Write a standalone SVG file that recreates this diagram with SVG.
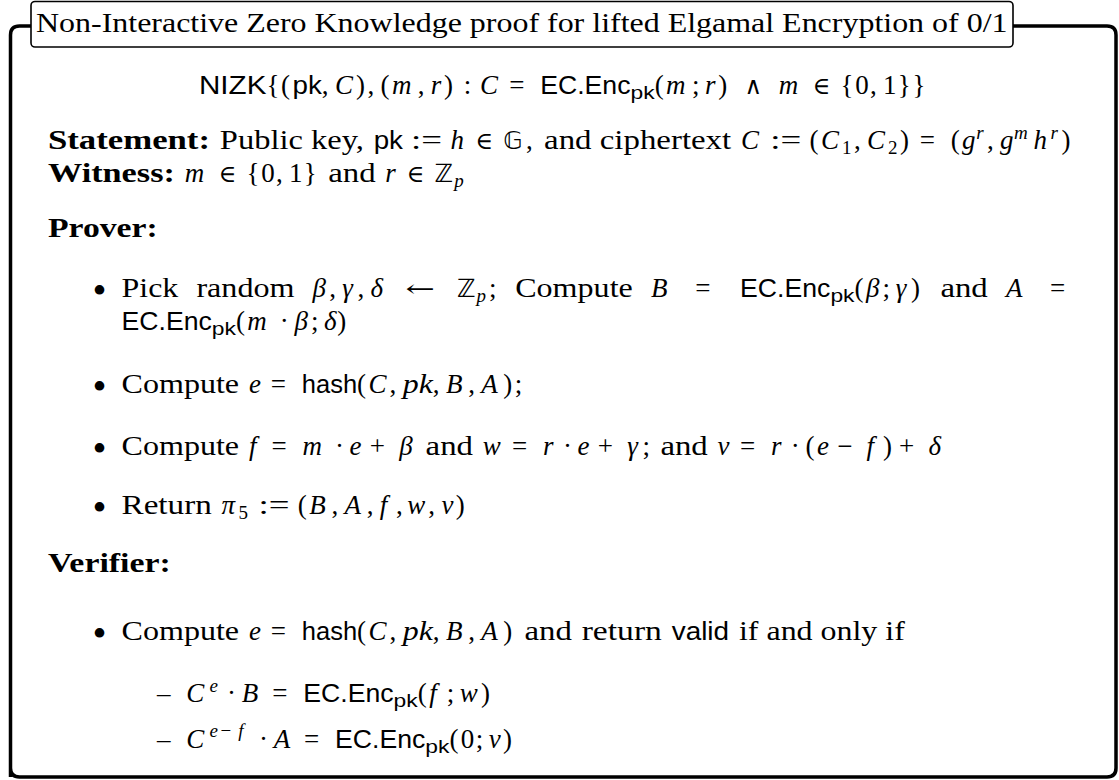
<svg xmlns="http://www.w3.org/2000/svg" width="1119" height="780" viewBox="0 0 1119 780">
<style>
text { font-family: "Liberation Serif", "DejaVu Serif", serif; font-size: 27px; fill: #000; }
.i { font-style: italic; }
.b { font-weight: bold; }
.s { font-family: "Liberation Sans", "DejaVu Sans", sans-serif; font-size: 25px; }
.m { font-family: "DejaVu Serif", "DejaVu Sans", serif; font-size: 24px; }
.bb { font-family: "DejaVu Sans", "DejaVu Serif", sans-serif; font-size: 25px; }
.t { font-size: 19px; }
.s.t { font-size: 18px; }
.bul { text-anchor: middle; font-size: 40px; }
.frame { fill: none; stroke: #000; stroke-width: 3.5; }
.tbox { fill: #fff; stroke: #000; stroke-width: 1.6; }
</style>
<rect width="1119" height="780" fill="#fff"/>
<g id="frame">
  <path class="frame" d="M 10.5 777 L 10.5 35 Q 10.5 26 19.5 26 L 1107 26 Q 1116 26 1116 35 L 1116 768 Q 1116 777 1107 777 L 19.5 777 Q 10.5 777 10.5 768 Z"/>
</g>
<g id="title">
  <rect class="tbox" x="31" y="1.5" width="982" height="45.5" rx="4"/>
  <text x="36" y="32" textLength="971.5" lengthAdjust="spacingAndGlyphs">Non-Interactive Zero Knowledge proof for lifted Elgamal Encryption of 0/1</text>
</g>
<g id="nizk" transform="translate(0,94)">
  <text class="s" x="199" y="0" textLength="67.4" lengthAdjust="spacingAndGlyphs">NIZK</text>
  <text x="266.4" y="0">{</text><text x="281.1" y="0">(</text>
  <text class="s" x="292.6" y="0" textLength="29.3" lengthAdjust="spacingAndGlyphs">pk</text>
  <text x="321.8" y="0">,</text><text class="i" x="334.9" y="0">C</text><text x="355.9" y="0">)</text><text x="367.4" y="0">,</text>
  <text x="380.5" y="0">(</text><text class="i" x="391.9" y="0">m</text><text x="417.7" y="0">,</text><text class="i" x="430.8" y="0">r</text><text x="444" y="0">)</text>
  <text x="463.7" y="0">:</text><text class="i" x="480" y="0">C</text><text x="509.2" y="0">=</text>
  <text class="s" x="540.2" y="0" textLength="90.3" lengthAdjust="spacingAndGlyphs">EC.Enc</text>
  <text class="s t" x="630.6" y="5" textLength="24.1" lengthAdjust="spacingAndGlyphs">pk</text>
  <text x="654.7" y="0">(</text><text class="i" x="666.1" y="0">m</text><text x="691.9" y="0">;</text><text class="i" x="705" y="0">r</text><text x="718.3" y="0">)</text>
  <text class="m" x="744.4" y="0">∧</text><text class="i" x="778.7" y="0">m</text><text class="m" x="812.7" y="0">∈</text>
  <text x="840.5" y="0">{</text><text x="855.2" y="0">0</text><text x="869.9" y="0">,</text><text x="883" y="0">1</text><text x="897.7" y="0">}</text><text x="912.4" y="0">}</text>
</g>
<g id="statement" transform="translate(0,149)">
  <text class="b" x="48" y="0" textLength="162" lengthAdjust="spacingAndGlyphs">Statement:</text>
  <text x="219.8" y="0" textLength="144.2" lengthAdjust="spacingAndGlyphs">Public key,</text>
  <text class="s" x="373.7" y="0" textLength="29.3" lengthAdjust="spacingAndGlyphs">pk</text>
  <text x="411.1" y="0" textLength="31" lengthAdjust="spacingAndGlyphs">:=</text>
  <text class="i" x="450.4" y="0">h</text><text class="m" x="475.5" y="0">∈</text><text class="bb" x="503.3" y="0">𝔾</text><text x="526.1" y="0">,</text>
  <text x="544.1" y="0" textLength="187.1" lengthAdjust="spacingAndGlyphs">and ciphertext</text>
  <text class="i" x="741" y="0">C</text>
  <text x="770.2" y="0" textLength="31" lengthAdjust="spacingAndGlyphs">:=</text>
  <text x="809.4" y="0">(</text><text class="i" x="820.9" y="0">C</text><text class="t" x="841.9" y="5">1</text><text x="853.9" y="0">,</text>
  <text class="i" x="867" y="0">C</text><text class="t" x="888" y="5">2</text><text x="900" y="0">)</text>
  <text x="919.7" y="0">=</text>
  <text x="950.7" y="0">(</text><text class="i" x="962.1" y="0">g</text><text class="i t" x="976.2" y="-10">r</text><text x="987" y="0">,</text>
  <text class="i" x="1000.1" y="0">g</text><text class="i t" x="1014.1" y="-10">m</text><text class="i" x="1033.5" y="0">h</text><text class="i t" x="1050.5" y="-10">r</text><text x="1061.4" y="0">)</text>
</g>
<g id="witness" transform="translate(0,182)">
  <text class="b" x="48" y="0" textLength="126.9" lengthAdjust="spacingAndGlyphs">Witness:</text>
  <text class="i" x="184.7" y="0">m</text><text class="m" x="218.7" y="0">∈</text>
  <text x="246.5" y="0">{</text><text x="261.2" y="0">0</text><text x="275.9" y="0">,</text><text x="289" y="0">1</text><text x="303.7" y="0">}</text>
  <text x="328.2" y="0" textLength="47.4" lengthAdjust="spacingAndGlyphs">and</text>
  <text class="i" x="385.3" y="0">r</text><text class="m" x="406.8" y="0">∈</text><text class="bb" x="434.6" y="0">ℤ</text><text class="i t" x="454.2" y="5">p</text>
</g>
<g id="prover-head">
  <text class="b" x="48" y="237" textLength="109.7" lengthAdjust="spacingAndGlyphs">Prover:</text>
</g>
<g id="item1" transform="translate(0,297)">
  <text class="bul" x="99.5" y="7">•</text>
  <text x="121.5" y="0" textLength="56.8" lengthAdjust="spacingAndGlyphs">Pick</text>
  <text x="196.4" y="0" textLength="98.1" lengthAdjust="spacingAndGlyphs">random</text>
  <text class="i" x="312.5" y="0">β</text><text x="329.2" y="0">,</text><text class="i" x="342.3" y="0">γ</text><text x="357.5" y="0">,</text><text class="i" x="370.6" y="0">δ</text>
  <text class="m" x="405.6" y="0" textLength="29.4" lengthAdjust="spacingAndGlyphs">←</text>
  <text class="bb" x="457" y="0">ℤ</text><text class="i t" x="476.6" y="5">p</text><text x="489" y="0">;</text>
  <text x="515.2" y="0" textLength="117.6" lengthAdjust="spacingAndGlyphs">Compute</text>
  <text class="i" x="650.9" y="0">B</text><text x="695.2" y="0">=</text>
  <text class="s" x="740.1" y="0" textLength="90.3" lengthAdjust="spacingAndGlyphs">EC.Enc</text>
  <text class="s t" x="830.4" y="5" textLength="24.1" lengthAdjust="spacingAndGlyphs">pk</text>
  <text x="854.5" y="0">(</text><text class="i" x="865.9" y="0">β</text><text x="882.6" y="0">;</text><text class="i" x="895.7" y="0">γ</text><text x="910.9" y="0">)</text>
  <text x="940.4" y="0" textLength="47.4" lengthAdjust="spacingAndGlyphs">and</text>
  <text class="i" x="1005.9" y="0">A</text><text x="1049.9" y="0">=</text>
</g>
<g id="item1b" transform="translate(0,330)">
  <text class="s" x="121.5" y="0" textLength="90.3" lengthAdjust="spacingAndGlyphs">EC.Enc</text>
  <text class="s t" x="211.8" y="5" textLength="24.1" lengthAdjust="spacingAndGlyphs">pk</text>
  <text x="235.9" y="0">(</text><text class="i" x="247.3" y="0">m</text><text x="279.7" y="0">·</text><text class="i" x="294.4" y="0">β</text><text x="311" y="0">;</text><text class="i" x="324.1" y="0">δ</text><text x="337.2" y="0">)</text>
</g>
<g id="item2" transform="translate(0,393)">
  <text class="bul" x="99.5" y="7">•</text>
  <text x="121.5" y="0" textLength="117.6" lengthAdjust="spacingAndGlyphs">Compute</text>
  <text class="i" x="248.9" y="0">e</text><text x="270.8" y="0">=</text>
  <text class="s" x="301.8" y="0" textLength="55.3" lengthAdjust="spacingAndGlyphs">hash</text>
  <text x="357.1" y="0">(</text><text class="i" x="368.6" y="0">C</text><text x="389.6" y="0">,</text>
  <text class="i" x="402.7" y="0" textLength="30.1" lengthAdjust="spacingAndGlyphs">pk</text><text x="432.8" y="0">,</text>
  <text class="i" x="445.9" y="0">B</text><text x="468.2" y="0">,</text><text class="i" x="481.3" y="0">A</text><text x="503.3" y="0">)</text><text x="514.8" y="0">;</text>
</g>
<g id="item3" transform="translate(0,455)">
  <text class="bul" x="99.5" y="7">•</text>
  <text x="121.5" y="0" textLength="117.6" lengthAdjust="spacingAndGlyphs">Compute</text>
  <text class="i" x="248.9" y="0">f</text><text x="271.5" y="0">=</text><text class="i" x="302.5" y="0">m</text><text x="334.9" y="0">·</text>
  <text class="i" x="349.6" y="0">e</text><text x="369.8" y="0">+</text><text class="i" x="399.2" y="0">β</text>
  <text x="425.6" y="0" textLength="47.4" lengthAdjust="spacingAndGlyphs">and</text>
  <text class="i" x="482.8" y="0">w</text><text x="512" y="0">=</text><text class="i" x="543.1" y="0">r</text><text x="562.9" y="0">·</text>
  <text class="i" x="577.6" y="0">e</text><text x="597.8" y="0">+</text><text class="i" x="627.2" y="0">γ</text><text x="642.4" y="0">;</text>
  <text x="660.4" y="0" textLength="47.4" lengthAdjust="spacingAndGlyphs">and</text>
  <text class="i" x="717.5" y="0">v</text><text x="740" y="0">=</text><text class="i" x="771" y="0">r</text><text x="790.8" y="0">·</text>
  <text x="805.5" y="0">(</text><text class="i" x="817" y="0">e</text><text x="837.2" y="0">−</text><text class="i" x="866.6" y="0">f</text><text x="883" y="0">)</text>
  <text x="899" y="0">+</text><text class="i" x="928.4" y="0">δ</text>
</g>
<g id="item4" transform="translate(0,514)">
  <text class="bul" x="99.5" y="7">•</text>
  <text x="121.5" y="0" textLength="90.3" lengthAdjust="spacingAndGlyphs">Return</text>
  <text class="i" x="221.6" y="0">π</text><text class="t" x="238.4" y="5">5</text>
  <text x="258.6" y="0" textLength="31" lengthAdjust="spacingAndGlyphs">:=</text>
  <text x="297.8" y="0">(</text><text class="i" x="309.2" y="0">B</text><text x="331.6" y="0">,</text><text class="i" x="344.6" y="0">A</text><text x="366.7" y="0">,</text>
  <text class="i" x="379.8" y="0">f</text><text x="396" y="0">,</text><text class="i" x="407.3" y="0">w</text><text x="428.3" y="0">,</text><text class="i" x="441.4" y="0">v</text><text x="455.7" y="0">)</text>
</g>
<g id="verifier-head">
  <text class="b" x="48" y="572" textLength="122.9" lengthAdjust="spacingAndGlyphs">Verifier:</text>
</g>
<g id="item5" transform="translate(0,640)">
  <text class="bul" x="99.5" y="7">•</text>
  <text x="121.5" y="0" textLength="117.6" lengthAdjust="spacingAndGlyphs">Compute</text>
  <text class="i" x="248.9" y="0">e</text><text x="270.8" y="0">=</text>
  <text class="s" x="301.8" y="0" textLength="55.3" lengthAdjust="spacingAndGlyphs">hash</text>
  <text x="357.1" y="0">(</text><text class="i" x="368.6" y="0">C</text><text x="389.6" y="0">,</text>
  <text class="i" x="402.7" y="0" textLength="30.1" lengthAdjust="spacingAndGlyphs">pk</text><text x="432.8" y="0">,</text>
  <text class="i" x="445.9" y="0">B</text><text x="468.2" y="0">,</text><text class="i" x="481.3" y="0">A</text><text x="503.3" y="0">)</text>
  <text x="524.5" y="0" textLength="47.4" lengthAdjust="spacingAndGlyphs">and</text>
  <text x="581.7" y="0" textLength="80.2" lengthAdjust="spacingAndGlyphs">return</text>
  <text class="s" x="671.7" y="0" textLength="57.4" lengthAdjust="spacingAndGlyphs">valid</text>
  <text x="739" y="0" textLength="165.8" lengthAdjust="spacingAndGlyphs">if and only if</text>
</g>
<g id="sub1" transform="translate(0,702)">
  <text x="156.9" y="0">–</text>
  <text class="i" x="186.3" y="0">C</text><text class="i t" x="209.4" y="-10">e</text><text x="227.1" y="0">·</text><text class="i" x="241.8" y="0">B</text><text x="272.3" y="0">=</text>
  <text class="s" x="303.3" y="0" textLength="90.3" lengthAdjust="spacingAndGlyphs">EC.Enc</text>
  <text class="s t" x="393.6" y="5" textLength="24.1" lengthAdjust="spacingAndGlyphs">pk</text>
  <text x="417.7" y="0">(</text><text class="i" x="429.2" y="0">f</text><text x="446.8" y="0">;</text><text class="i" x="459.8" y="0">w</text><text x="480.9" y="0">)</text>
</g>
<g id="sub2" transform="translate(0,748)">
  <text x="156.9" y="0">–</text>
  <text class="i" x="186.3" y="0">C</text><text class="i t" x="209.4" y="-11">e</text><text class="t" x="220.6" y="-11">−</text><text class="i t" x="238.2" y="-11">f</text>
  <text x="259" y="0">·</text><text class="i" x="273.7" y="0">A</text><text x="303.9" y="0">=</text>
  <text class="s" x="335" y="0" textLength="90.3" lengthAdjust="spacingAndGlyphs">EC.Enc</text>
  <text class="s t" x="425.3" y="5" textLength="24.1" lengthAdjust="spacingAndGlyphs">pk</text>
  <text x="449.4" y="0">(</text><text x="460.8" y="0">0</text><text x="475.7" y="0">;</text><text class="i" x="488.8" y="0">v</text><text x="503" y="0">)</text>
</g>
</svg>
